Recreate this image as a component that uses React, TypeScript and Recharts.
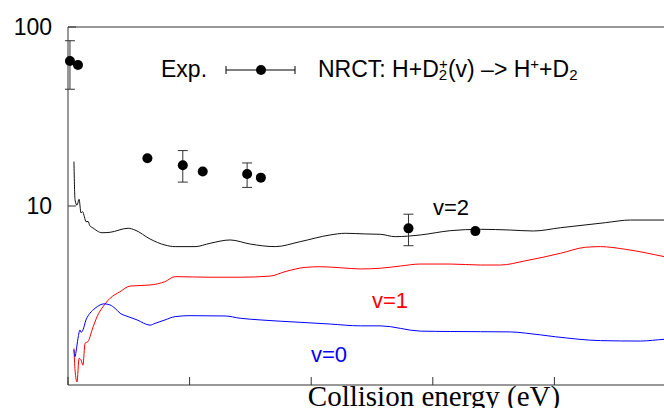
import { ComposedChart, Line, Scatter, ErrorBar, XAxis, YAxis } from 'recharts'

const SANS = '"Liberation Sans", Arial, Helvetica, sans-serif'
const SERIF = '"Liberation Serif", "Times New Roman", serif'

// NRCT cross sections, v=2 (black)
const v2Energy = [0.049, 0.058, 0.074, 0.091, 0.107, 0.12, 0.135, 0.148, 0.165, 0.18, 0.206, 0.24, 0.28, 0.346, 0.494, 0.551, 0.675, 0.798, 0.881, 1.045, 1.169, 1.333, 1.498, 1.704, 1.909, 2.156, 2.28, 2.444, 2.568, 2.691, 2.897, 3.144, 3.391, 3.638, 3.827, 4.049, 4.42, 4.626, 4.905, 5.0]
const v2Sigma = [17.7, 10.8, 10.1, 10.9, 9.14, 9.3, 8.7, 8.17, 8.2, 7.75, 7.54, 7.25, 7.09, 7.13, 7.51, 7.34, 6.54, 6.05, 5.93, 5.93, 6.19, 6.46, 6.13, 5.93, 6.32, 6.89, 7.04, 6.98, 6.95, 6.74, 6.89, 7.28, 7.41, 7.34, 7.25, 7.56, 8.07, 8.35, 8.35, 8.3]

// v=1 (red)
const v1Energy = [0.049, 0.058, 0.074, 0.091, 0.107, 0.123, 0.14, 0.165, 0.198, 0.239, 0.288, 0.346, 0.428, 0.51, 0.675, 0.798, 0.881, 1.169, 1.416, 1.663, 1.786, 1.951, 2.074, 2.239, 2.403, 2.568, 2.733, 2.897, 3.144, 3.391, 3.556, 3.761, 4.049, 4.255, 4.379, 4.584, 4.905, 5.0]
const v1Sigma = [1.6, 1.21, 1.04, 1.41, 1.38, 1.29, 1.71, 1.75, 2.03, 2.41, 2.74, 3.05, 3.32, 3.57, 3.62, 3.78, 4.03, 4.0, 4.0, 4.06, 4.3, 4.54, 4.58, 4.52, 4.45, 4.49, 4.62, 4.74, 4.74, 4.68, 4.68, 4.94, 5.44, 5.88, 5.93, 5.73, 5.21, 5.05]

// v=0 (blue)
const v0Energy = [0.049, 0.058, 0.066, 0.082, 0.099, 0.107, 0.123, 0.148, 0.181, 0.222, 0.263, 0.296, 0.346, 0.387, 0.428, 0.494, 0.568, 0.675, 0.716, 0.798, 0.881, 1.004, 1.292, 1.416, 1.58, 1.909, 2.156, 2.403, 2.568, 2.897, 3.144, 3.638, 3.761, 4.008, 4.379, 4.708, 4.905, 5.0]
const v0Sigma = [1.57, 1.44, 1.53, 1.82, 2.03, 1.97, 2.03, 2.31, 2.52, 2.68, 2.8, 2.84, 2.8, 2.68, 2.52, 2.41, 2.31, 2.16, 2.21, 2.31, 2.41, 2.44, 2.43, 2.36, 2.31, 2.24, 2.19, 2.14, 2.14, 2.0, 1.99, 1.98, 1.95, 1.86, 1.77, 1.76, 1.8, 1.81]

// experiment, points with error bars
const expErrEnergy = [0.016, 0.944, 1.473, 2.8]
const expErrSigma = [64.6, 16.9, 15.1, 7.5]
const expErrLow = [44.9, 13.6, 12.7, 6.0]
const expErrHigh = [83.8, 20.4, 17.4, 9.0]

// experiment, points without error bars
const expEnergy = [0.082, 0.653, 1.108, 1.586, 3.35]
const expSigma = [61.4, 18.5, 15.6, 14.4, 7.24]

const xTicks = [0, 1, 2, 3, 4, 5]
const yTicks = [10, 100]

const toPoints = (xs: number[], ys: number[]) => xs.map((x, i) => ({ x, y: ys[i] }))

const v2Data = toPoints(v2Energy, v2Sigma)
const v1Data = toPoints(v1Energy, v1Sigma)
const v0Data = toPoints(v0Energy, v0Sigma)
const expErrData = expErrEnergy.map((x, i) => ({
  x,
  y: expErrSigma[i],
  err: [expErrSigma[i] - expErrLow[i], expErrHigh[i] - expErrSigma[i]],
}))
const expData = toPoints(expEnergy, expSigma)

// ticks point into the plot, gnuplot style
const YTick = (props: any) => {
  const { x, y, payload } = props
  return (
    <g>
      <line x1={x} y1={y} x2={x + 8} y2={y} stroke="#333" />
      <text x={x - 16} y={y + 8} textAnchor="end" fontSize={23} fontFamily={SANS} fill="#000">
        {payload.value}
      </text>
    </g>
  )
}

const BottomTick = (props: any) => <line x1={props.x} y1={props.y} x2={props.x} y2={props.y - 8} stroke="#333" />
const TopTick = (props: any) => <line x1={props.x} y1={props.y} x2={props.x} y2={props.y + 8} stroke="#333" />

const Dot = (props: any) => <circle cx={props.cx} cy={props.cy} r={5} fill="#000" />

export default function App() {
  return (
    <div style={{ position: 'absolute', left: 0, top: 0, width: 664, height: 408, overflow: 'hidden', background: '#fff' }}>
      <ComposedChart width={700} height={408} margin={{ top: 26, right: 24, bottom: 0, left: 8 }}>
        <XAxis
          xAxisId="top"
          orientation="top"
          type="number"
          dataKey="x"
          domain={[0, 5]}
          ticks={xTicks}
          height={1}
          tickSize={0}
          tickMargin={0}
          tickLine={false}
          tick={<TopTick />}
          stroke="#333"
        />
        <XAxis
          type="number"
          dataKey="x"
          domain={[0, 5]}
          ticks={xTicks}
          height={23}
          tickSize={0}
          tickMargin={0}
          tickLine={false}
          tick={<BottomTick />}
          stroke="#333"
        />
        <YAxis
          type="number"
          scale="log"
          domain={[1, 100]}
          ticks={yTicks}
          allowDataOverflow
          width={60}
          tickSize={0}
          tickMargin={0}
          tickLine={false}
          tick={<YTick />}
          stroke="#333"
        />
        <Line data={v2Data} dataKey="y" type="monotone" stroke="#111" strokeWidth={1} dot={false} isAnimationActive={false} />
        <Line data={v1Data} dataKey="y" type="monotone" stroke="#ff0000" strokeWidth={1} dot={false} isAnimationActive={false} />
        <Line data={v0Data} dataKey="y" type="monotone" stroke="#0000ff" strokeWidth={1} dot={false} isAnimationActive={false} />
        <Scatter data={expErrData} dataKey="y" shape={<Dot />} isAnimationActive={false}>
          <ErrorBar dataKey="err" direction="y" width={5} stroke="#333" strokeWidth={1} />
        </Scatter>
        <Scatter data={expData} dataKey="y" shape={<Dot />} isAnimationActive={false} />
      </ComposedChart>

      {/* legend, curve labels and x title */}
      <svg width={664} height={408} style={{ position: 'absolute', left: 0, top: 0, pointerEvents: 'none' }}>
        <text x={161} y={77} fontSize={23} fontFamily={SANS} fill="#000">Exp.</text>
        <line x1={226} y1={70} x2={295} y2={70} stroke="#000" />
        <line x1={226} y1={66} x2={226} y2={74} stroke="#000" />
        <line x1={295} y1={66} x2={295} y2={74} stroke="#000" />
        <circle cx={261} cy={70} r={5} fill="#000" />
        <text x={318} y={77} fontSize={23} fontFamily={SANS} fill="#000">
          NRCT: H+D
          <tspan fontSize={15} dy={3}>2</tspan>
          <tspan fontSize={15} dx={-8} dy={-11}>+</tspan>
          <tspan dy={8}>(v) –&gt; H</tspan>
          <tspan fontSize={15} dy={-8}>+</tspan>
          <tspan dy={8}>+D</tspan>
          <tspan fontSize={15} dy={3}>2</tspan>
        </text>
        <text x={433} y={215} fontSize={22} fontFamily={SANS} fill="#000">v=2</text>
        <text x={372} y={308} fontSize={22} fontFamily={SANS} fill="#ff0000">v=1</text>
        <text x={311} y={362} fontSize={22} fontFamily={SANS} fill="#0000ff">v=0</text>
        <text x={434} y={406} textAnchor="middle" fontSize={29} fontFamily={SERIF} fill="#000">
          Collision energy (eV)
        </text>
      </svg>
    </div>
  )
}
